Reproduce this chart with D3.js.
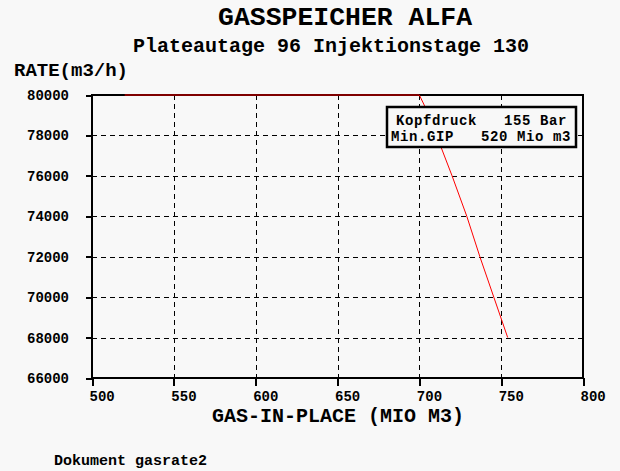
<!DOCTYPE html>
<html>
<head>
<meta charset="utf-8">
<script src="https://cdn.jsdelivr.net/npm/d3@7"></script>
<style>
html,body{margin:0;padding:0;background:#f8f8f8;}
svg{display:block;}
text{font-family:"Liberation Mono","DejaVu Sans Mono",monospace;fill:#000;}
</style>
</head>
<body>
<svg id="chart" width="620" height="471"></svg>
<script>
// Data
const gip  = [520, 700, 703, 710.5, 720, 729, 737, 745.5, 754];
const rate = [80000, 80000, 79500, 78000, 76000, 74000, 72000, 70000, 68000];
const xTicks = [500, 550, 600, 650, 700, 750, 800];
const yTicks = [66000, 68000, 70000, 72000, 74000, 76000, 78000, 80000];
const title = "GASSPEICHER ALFA";
const subtitle = "Plateautage 96 Injektionstage 130";
const yTitle = "RATE(m3/h)";
const xTitle = "GAS-IN-PLACE (MIO M3)";
const legendLines = ["Kopfdruck   155 Bar", "Min.GIP   520 Mio m3"];
const footer = "Dokument gasrate2";

const svg = d3.select("#chart");
const L = 92, R = 583, T = 95, B = 378;
const x = d3.scaleLinear().domain([500, 800]).range([L, R]);
const y = d3.scaleLinear().domain([66000, 80000]).range([B, T]);

// grid
const g = svg.append("g");
g.selectAll(".vg").data(xTicks.slice(1, -1)).enter().append("line")
  .attr("x1", d => Math.round(x(d)) + 0.5).attr("x2", d => Math.round(x(d)) + 0.5)
  .attr("y1", T).attr("y2", B)
  .attr("stroke", "#000").attr("stroke-width", 1).attr("stroke-dasharray", "5,4")
  .attr("shape-rendering", "crispEdges");
g.selectAll(".hg").data(yTicks.slice(1, -1)).enter().append("line")
  .attr("y1", d => Math.round(y(d)) + 0.5).attr("y2", d => Math.round(y(d)) + 0.5)
  .attr("x1", L).attr("x2", R)
  .attr("stroke", "#000").attr("stroke-width", 1).attr("stroke-dasharray", "5,4")
  .attr("shape-rendering", "crispEdges");

// frame
svg.append("rect").attr("x", L).attr("y", T).attr("width", R - L).attr("height", B - T)
  .attr("fill", "none").attr("stroke", "#000").attr("stroke-width", 2)
  .attr("shape-rendering", "crispEdges");

// axes
const xAxis = d3.axisBottom(x).tickValues(xTicks).tickSize(8).tickFormat(d3.format("d"));
const xa = svg.append("g").attr("transform", `translate(0,${B})`).call(xAxis);
xa.select(".domain").remove();
xa.selectAll(".tick line").attr("stroke", "#000").attr("stroke-width", 2).attr("shape-rendering", "crispEdges");
xa.selectAll(".tick text").attr("text-anchor", "start").attr("dx", -3).attr("y", 0).attr("dy", 0)
  .attr("transform", "translate(0,23)")
  .style("font-family", '"Liberation Mono", monospace').style("font-size", "14px").style("font-weight", "bold").attr("fill", "#000");

const yAxis = d3.axisLeft(y).tickValues(yTicks).tickSize(6).tickFormat(d3.format("d"));
const ya = svg.append("g").attr("transform", `translate(${L},0)`).call(yAxis);
ya.select(".domain").remove();
ya.selectAll(".tick line").attr("stroke", "#000").attr("stroke-width", 2).attr("shape-rendering", "crispEdges");
ya.selectAll(".tick text").attr("x", -23).attr("dy", "0.32em")
  .style("font-family", '"Liberation Mono", monospace').style("font-size", "14px").style("font-weight", "bold").attr("fill", "#000");

// line
const line = d3.line().x((d, i) => x(gip[i])).y((d, i) => y(rate[i]));
svg.append("path").datum(rate).attr("d", line)
  .attr("fill", "none").attr("stroke", "#ff0000").attr("stroke-width", 1);

// legend
const lg = svg.append("g");
lg.append("rect").attr("x", 387).attr("y", 107).attr("width", 189).attr("height", 40)
  .attr("fill", "#f8f8f8").attr("stroke", "#000").attr("stroke-width", 2.5);
lg.append("text").attr("x", 396).attr("y", 125).attr("xml:space", "preserve").style("white-space", "pre")
  .style("font-size", "14px").style("letter-spacing", "0.6px").style("font-weight", "bold").text(legendLines[0]);
lg.append("text").attr("x", 391).attr("y", 141).attr("xml:space", "preserve").style("white-space", "pre")
  .style("font-size", "14px").style("letter-spacing", "0.6px").style("font-weight", "bold").text(legendLines[1]);

// titles
svg.append("text").attr("x", 345).attr("y", 25).attr("text-anchor", "middle")
  .style("font-size", "26px").style("font-weight", "bold")
  .attr("textLength", 254).attr("lengthAdjust", "spacingAndGlyphs").text(title);
svg.append("text").attr("x", 331).attr("y", 52).attr("text-anchor", "middle")
  .style("font-size", "20px").style("font-weight", "bold").text(subtitle);
svg.append("text").attr("x", 14).attr("y", 76)
  .style("font-size", "19px").style("font-weight", "bold").text(yTitle);
svg.append("text").attr("x", 338).attr("y", 422).attr("text-anchor", "middle")
  .style("font-size", "20px").style("font-weight", "bold").text(xTitle);
svg.append("text").attr("x", 54).attr("y", 465)
  .style("font-size", "15px").style("font-weight", "bold").text(footer);
</script>
</body>
</html>
